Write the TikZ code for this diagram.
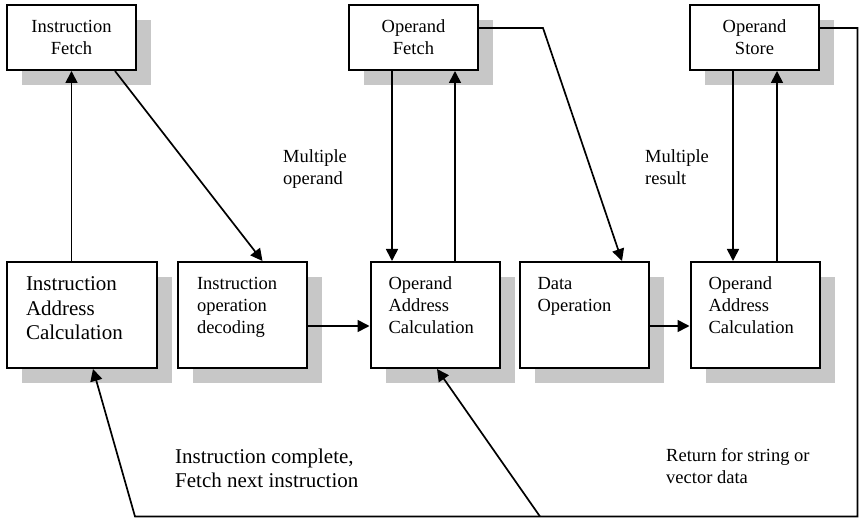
\documentclass[tikz,border=0pt]{standalone}
\usepackage{fontspec}
\setmainfont{Liberation Serif}
\usetikzlibrary{arrows.meta, shadows}
\newcommand{\stagefont}{\fontsize{18.5}{22}\selectfont}
\newcommand{\bigstagefont}{\fontsize{21}{24.5}\selectfont}
\newcommand{\stagetext}[2]{\parbox[c][76pt][t]{#1}{\raggedright #2}}
\tikzset{
  stage/.style={draw, line width=2pt, fill=white, inner sep=0pt,
    drop shadow={shadow xshift=15pt, shadow yshift=-15pt, fill=black!22, opacity=1}},
  fetchbox/.style={stage, minimum width=129pt, minimum height=65pt, align=center, font=\stagefont},
  calcbox/.style={stage, minimum width=129pt, minimum height=106pt, font=\stagefont},
  arr/.style={line width=1.7pt, -{Triangle[length=12pt, width=12pt]}},
  note/.style={anchor=north west, inner sep=0pt, align=left, font=\stagefont}
}

\begin{document}
\begin{tikzpicture}[x=1pt, y=-1pt]
    \useasboundingbox (0,0) rectangle (862,518);
    \node[fetchbox] (ifetch) at (71.5,37.5) {Instruction\\Fetch};
    \node[fetchbox] (ofetch) at (413.5,37.5) {Operand\\Fetch};
    \node[fetchbox] (ostore) at (754.5,37.5) {Operand\\Store};
    \node[calcbox, minimum width=150pt, font=\bigstagefont] (iaddr) at (82,315) {\stagetext{112pt}{Instruction\\Address\\Calculation}};
    \node[calcbox] (idecode) at (242.5,315) {\stagetext{91pt}{Instruction\\operation\\decoding}};
    \node[calcbox] (oaddr) at (435,315) {\stagetext{93pt}{Operand\\Address\\Calculation}};
    \node[calcbox] (dataop) at (584,315) {\stagetext{93pt}{Data\\Operation}};
    \node[calcbox] (oaddrb) at (755,315) {\stagetext{93pt}{Operand\\Address\\Calculation}};
    \node[note] (multop) at (283,149.5) {Multiple\\operand};
    \node[note] (multres) at (645,149.5) {Multiple\\result};
    \node[note, font=\bigstagefont] (complete) at (175,448.7) {Instruction complete,\\Fetch next instruction};
    \node[note] (retnote) at (666,448.4) {Return for string or\\vector data};
    \coordinate (loopin) at (857.5,516.5);
    \coordinate (loopout) at (135,516.5);
    \coordinate (branch) at (540,516.5);
    \draw[arr] (iaddr.north -| ifetch.south) -- (ifetch.south);
    \draw[arr] ([xshift=43.5pt]ifetch.south) -- ([xshift=20pt]idecode.north);
    \draw[arr] ([xshift=-21.5pt]ofetch.south) -- ([xshift=-21.5pt]ofetch.south |- oaddr.north);
    \draw[arr] ([xshift=20pt]oaddr.north) -- ([xshift=20pt]oaddr.north |- ofetch.south);
    \draw[arr] ([yshift=9.5pt]ofetch.east) -- ++(64,0) -- ([xshift=38pt]dataop.north);
    \draw[arr] ([xshift=-21.5pt]ostore.south) -- ([xshift=-21.5pt]ostore.south |- oaddrb.north);
    \draw[arr] ([xshift=22pt]oaddrb.north) -- ([xshift=22pt]oaddrb.north |- ostore.south);
    \draw[arr] ([yshift=-11pt]idecode.east) -- ([yshift=-11pt]idecode.east -| oaddr.west);
    \draw[arr] ([yshift=-11pt]dataop.east) -- ([yshift=-11pt]dataop.east -| oaddrb.west);
    \draw[arr] ([yshift=9.5pt]ostore.east) -| (loopin) -- (loopout) -- ([xshift=11pt]iaddr.south);
    \draw[arr] (branch) -- ([xshift=2pt]oaddr.south);
\end{tikzpicture}
\end{document}
